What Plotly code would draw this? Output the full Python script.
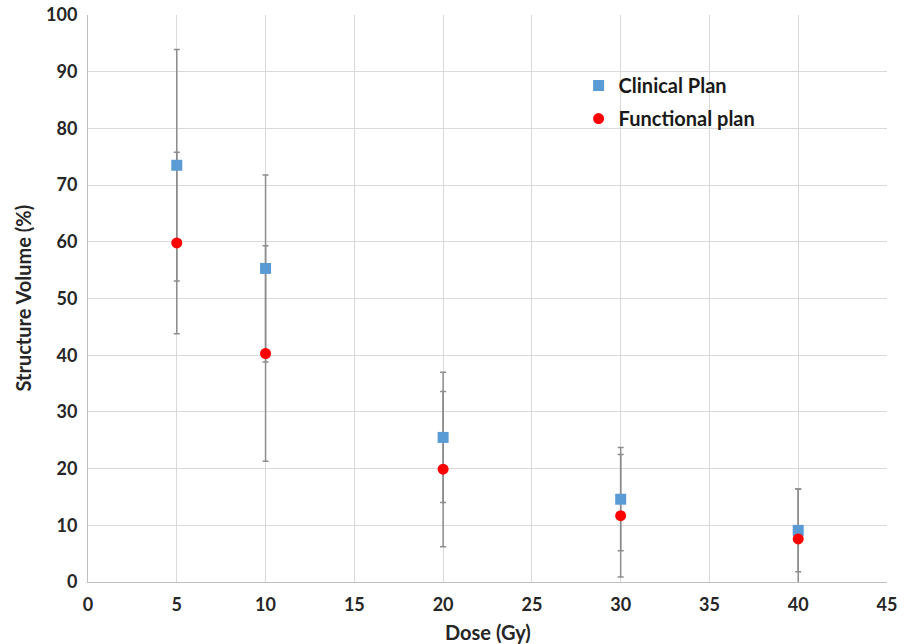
import plotly.graph_objects as go

dose = [5, 10, 20, 30, 40]
clinical = [73.5, 55.3, 25.5, 14.6, 9.1]
clinical_err = [20.4, 16.5, 11.5, 9.1, 7.3]
functional = [59.8, 40.3, 19.9, 11.7, 7.6]
functional_err = [16.0, 19.0, 13.7, 10.8, 8.8]

FONT = "Lato"
ERR_COLOR = "#8c8c8c"
TXT = "#262626"

fig = go.Figure()

# error bars first (drawn beneath all markers)
for ys, errs in [(functional, functional_err), (clinical, clinical_err)]:
    fig.add_trace(go.Scatter(
        x=dose, y=ys, mode="markers",
        marker=dict(color="rgba(0,0,0,0)", size=1),
        error_y=dict(type="data", array=errs, visible=True,
                     color=ERR_COLOR, thickness=1.5, width=3),
        showlegend=False, hoverinfo="skip",
    ))

fig.add_trace(go.Scatter(
    x=dose, y=clinical, mode="markers", name="Clinical Plan",
    marker=dict(symbol="square", color="#5b9bd5", size=11),
    legendgroup="a",
))
fig.add_trace(go.Scatter(
    x=dose, y=functional, mode="markers", name="Functional plan",
    marker=dict(symbol="circle", color="#ff0000", size=11),
    legendgroup="b",
))

title_font = dict(family=FONT, size=20, color=TXT, weight="bold")

fig.update_layout(
    width=911, height=644,
    margin=dict(l=88, r=24, t=15, b=62),
    paper_bgcolor="white", plot_bgcolor="white",
    font=dict(family=FONT, size=14, color=TXT),
    legend=dict(x=0.614, y=0.91, xanchor="left", yanchor="top",
                font=dict(family=FONT, size=20, color="#1a1a1a", weight="bold"),
                bgcolor="rgba(0,0,0,0)", tracegroupgap=4,
                itemwidth=30),
    xaxis=dict(
        range=[0, 45], tickvals=list(range(0, 50, 5)), automargin=False,
        showgrid=True, gridcolor="#d9d9d9", gridwidth=1,
        zeroline=False, showline=True, linecolor="#bfbfbf", linewidth=1,
        ticks="outside", ticklen=6, tickcolor="rgba(0,0,0,0)",
        ticklabeloverflow="allow",
        tickfont=dict(family=FONT, size=18, color=TXT, weight="bold"),
    ),
    yaxis=dict(
        range=[0, 100], tickvals=list(range(0, 110, 10)), automargin=False,
        showgrid=True, gridcolor="#d9d9d9", gridwidth=1,
        zeroline=False, showline=True, linecolor="#bfbfbf", linewidth=1,
        ticks="outside", ticklen=6, tickcolor="rgba(0,0,0,0)",
        ticklabeloverflow="allow",
        tickfont=dict(family=FONT, size=18, color=TXT, weight="bold"),
    ),
    annotations=[
        dict(text="Dose (Gy)", xref="paper", yref="paper", x=0.5, y=-0.088,
             xanchor="center", yanchor="middle", showarrow=False, font=title_font),
        dict(text="Structure Volume (%)", xref="paper", yref="paper", x=-0.0826, y=0.5,
             xanchor="center", yanchor="middle", textangle=-90, showarrow=False,
             font=title_font),
    ],
)

fig.write_html(
    "out.html",
    config={"displayModeBar": False},
    post_script="document.body.style.margin='0px';document.body.style.overflow='hidden';",
)
